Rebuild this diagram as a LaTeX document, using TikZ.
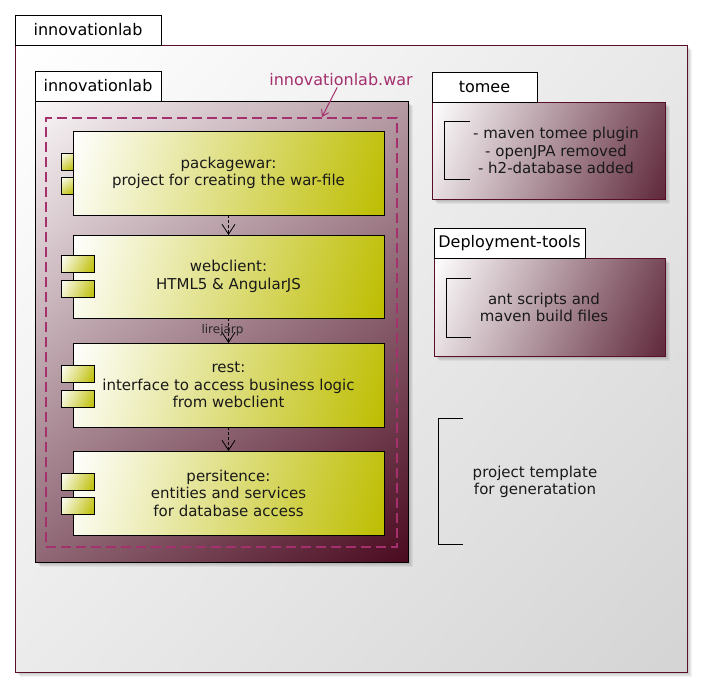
\documentclass[tikz,border=0pt]{standalone}
\usepackage{fontspec}
\setmainfont{DejaVu Sans}
\usetikzlibrary{arrows.meta}
\definecolor{maroonline}{RGB}{90,16,36}
\definecolor{outerdark}{RGB}{212,212,212}
\definecolor{innerlight}{RGB}{250,247,248}
\definecolor{innerdark}{RGB}{74,10,32}
\definecolor{olive}{RGB}{189,189,0}
\definecolor{notedark}{RGB}{95,40,58}
\definecolor{warc}{RGB}{164,48,110}
% linear gradient along the diagonal of a box: x, y, w, h, start colour, end colour
\newcommand\gradfill[6]{%
  \pgfmathsetmacro\gL{100*sqrt((#3/100)*(#3/100)+(#4/100)*(#4/100))}%
  \pgfmathsetmacro\gA{atan2(#4,#3)}%
  \begin{scope}
    \clip (#1,#2) rectangle ++(#3,#4);
    \begin{scope}[transform canvas={shift={(#1,#2)}, rotate=-\gA}]
      \shade[left color=#5, right color=#6] (0,-\gL) rectangle (\gL,\gL);
    \end{scope}
  \end{scope}}
% soft drop shadow: x, y, w, h
\newcommand\softshadow[4]{%
  \foreach \d in {2,3,4,5}{\fill[black, opacity=0.05] (#1+\d,#2+\d) rectangle ++(#3,#4);}}
\tikzset{
  box/.style={anchor=north west, inner sep=0pt, outer sep=0pt},
  tabbox/.style={box, draw=black, line width=0.8pt, fill=white, font=\fontsize{16}{19}\selectfont},
  outerbody/.style={box, draw=maroonline, line width=0.8pt},
  innerbody/.style={box, draw=black, line width=0.8pt},
  notebody/.style={box, draw=maroonline, line width=0.7pt},
  comp/.style={box, draw=black, line width=0.8pt, align=center, font=\fontsize{15}{17.5}\selectfont, text=black!90},
  port/.style={box, draw=black, line width=0.7pt},
  txt/.style={align=center, font=\fontsize{15}{17.5}\selectfont, inner sep=0pt, text=black!90},
  bracket/.style={draw=black, line width=0.8pt},
  dep/.style={draw=black, line width=0.8pt, dash pattern=on 3pt off 2pt, -{Straight Barb[length=10pt,width=13pt,line width=0.8pt]}},
  lbl/.style={font=\fontsize{12}{14}\selectfont, inner sep=0pt, text=black!85},
}
\begin{document}
\begin{tikzpicture}[x=1pt,y=-1pt]
\useasboundingbox (0,0) rectangle (703,688);
% outer package
\softshadow{15}{45}{672}{627}
\gradfill{15}{45}{672}{627}{white}{outerdark}
\node[outerbody, minimum width=672pt, minimum height=627pt] (outer) at (15,45) {};
\node[tabbox, minimum width=146pt, minimum height=30pt] (outertab) at (15,15) {innovationlab};
% inner package
\softshadow{35}{101}{373}{461}
\gradfill{35}{101}{373}{461}{innerlight}{innerdark}
\node[innerbody, minimum width=373pt, minimum height=461pt] (inner) at (35,101) {};
\node[tabbox, minimum width=126pt, minimum height=30pt] (innertab) at (35,71) {innovationlab};
% artifact
\node[box, draw=warc, line width=2pt, dash pattern=on 10pt off 5pt, minimum width=351pt, minimum height=429pt] (warbox) at (46,118) {};
\node[font=\fontsize{16}{19}\selectfont, text=warc, inner sep=1pt] (war) at (341,80) {innovationlab.war};
\coordinate (wartip) at (322,117);
\draw[warc, line width=1pt, -{Straight Barb[length=6pt,width=8pt,line width=1pt]}] (war) -- (wartip);
% components
\gradfill{61}{153}{12}{17}{white}{olive}
\node[port, minimum width=12pt, minimum height=17pt] (pwp1) at (61,153) {};
\gradfill{61}{177}{12}{17}{white}{olive}
\node[port, minimum width=12pt, minimum height=17pt] (pwp2) at (61,177) {};
\gradfill{73}{131}{311}{84}{white}{olive}
\node[comp, minimum width=311pt, minimum height=84pt] (pw) at (73,131) {packagewar:\\project for creating the war-file};
\gradfill{73}{235}{311}{83}{white}{olive}
\node[comp, minimum width=311pt, minimum height=83pt] (wc) at (73,235) {webclient:\\HTML5 \& AngularJS};
\gradfill{61}{255}{33}{17}{white}{olive}
\node[port, minimum width=33pt, minimum height=17pt] (wcp1) at (61,255) {};
\gradfill{61}{280}{33}{17}{white}{olive}
\node[port, minimum width=33pt, minimum height=17pt] (wcp2) at (61,280) {};
\gradfill{73}{343}{311}{84}{white}{olive}
\node[comp, minimum width=311pt, minimum height=84pt] (rs) at (73,343) {rest:\\interface to access business logic\\from webclient};
\gradfill{61}{365}{33}{17}{white}{olive}
\node[port, minimum width=33pt, minimum height=17pt] (rsp1) at (61,365) {};
\gradfill{61}{390}{33}{17}{white}{olive}
\node[port, minimum width=33pt, minimum height=17pt] (rsp2) at (61,390) {};
\gradfill{73}{451}{311}{84}{white}{olive}
\node[comp, minimum width=311pt, minimum height=84pt] (ps) at (73,451) {persitence:\\entities and services\\for database access};
\gradfill{61}{473}{33}{17}{white}{olive}
\node[port, minimum width=33pt, minimum height=17pt] (psp1) at (61,473) {};
\gradfill{61}{497}{33}{17}{white}{olive}
\node[port, minimum width=33pt, minimum height=17pt] (psp2) at (61,497) {};
% dependencies
\draw[dep] (pw) -- (wc);
\draw[dep] (wc) -- node[lbl, xshift=-6pt] (lj) {lirejarp} (rs);
\draw[dep] (rs) -- (ps);
% tomee
\softshadow{432}{102}{233}{97}
\gradfill{432}{102}{233}{97}{white}{notedark}
\node[notebody, minimum width=233pt, minimum height=97pt] (tomee) at (432,102) {};
\node[tabbox, minimum width=105pt, minimum height=30pt] (tomeetab) at (432,72) {tomee};
\draw[bracket] (470,121) -- (444,121) -- (444,179) -- (470,179);
\node[txt] (tomeetxt) at (556,150.5) {- maven tomee plugin\\- openJPA removed\\- h2-database added};
% deployment tools
\softshadow{434}{258}{231}{98}
\gradfill{434}{258}{231}{98}{white}{notedark}
\node[notebody, minimum width=231pt, minimum height=98pt] (deploy) at (434,258) {};
\node[tabbox, minimum width=151pt, minimum height=30pt] (deploytab) at (434,228) {Deployment-tools};
\draw[bracket] (471,278) -- (446,278) -- (446,337) -- (471,337);
\node[txt] (deploytxt) at (544,307.5) {ant scripts and\\maven build files};
% project template
\draw[bracket] (463,418) -- (438,418) -- (438,544) -- (463,544);
\node[txt] (tmpltxt) at (535,482) {project template\\ for generatation};
\end{tikzpicture}
\end{document}
